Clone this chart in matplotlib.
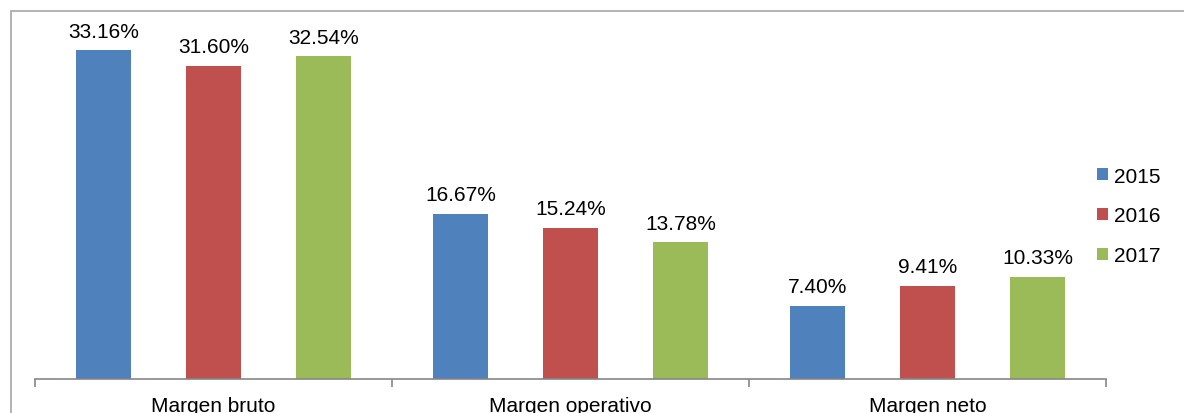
import matplotlib
matplotlib.use("Agg")
import matplotlib.pyplot as plt
from matplotlib.patches import Rectangle
import numpy as np

plt.rcParams.update({
    "font.family": ["Liberation Sans", "DejaVu Sans"],
    "font.size": 15,
})

categories = ["Margen bruto", "Margen operativo", "Margen neto"]
years = ["2015", "2016", "2017"]
values_2015 = [33.16, 16.67, 7.40]
values_2016 = [31.60, 15.24, 9.41]
values_2017 = [32.54, 13.78, 10.33]
colors = ["#4F81BD", "#C0504D", "#9BBB59"]

W, H = 1184, 414
fig = plt.figure(figsize=(W / 100, H / 100), dpi=100)

# chart frame (right and bottom edges fall outside the image)
fig.patches.append(Rectangle((11 / W, -0.1), 1.2, (H - 12) / H + 0.1,
                             transform=fig.transFigure, fill=False,
                             edgecolor="#A6A6A6", linewidth=1.2))

ax = fig.add_axes([35 / W, 34 / H, 1071 / W, 347 / H])
ax.set_xlim(0, 3)
ax.set_ylim(0, 35)

x = np.arange(len(categories)) + 0.5
offset = 110 / 357
width = 55 / 357
series = [values_2015, values_2016, values_2017]
for i, (vals, yr, c) in enumerate(zip(series, years, colors)):
    bx = x + (i - 1) * offset
    ax.bar(bx, vals, width=width, color=c, label=yr)
    for xi, v in zip(bx, vals):
        ax.annotate(f"{v:.2f}%", (xi, v), xytext=(0, 7), textcoords="offset points",
                    ha="center", va="bottom", fontsize=15, color="#000000")

for s in ["top", "right", "left"]:
    ax.spines[s].set_visible(False)
ax.spines["bottom"].set_color("#868686")
ax.spines["bottom"].set_linewidth(1.2)
ax.set_yticks([])
ax.set_xticks([0, 1, 2, 3])
ax.set_xticklabels([])
ax.tick_params(axis="x", length=6, color="#868686", width=1.2)
ax.set_xticks(x, minor=True)
ax.set_xticklabels(categories, minor=True, fontsize=15)
ax.tick_params(axis="x", which="minor", length=0, pad=12)

fig.legend(loc="center left", bbox_to_anchor=(1087 / W, (H - 217) / H),
           frameon=False, fontsize=15, handlelength=0.5, handleheight=0.5,
           handletextpad=0.3, labelspacing=1.0, borderpad=0)

fig.savefig("out.png", dpi=100)
